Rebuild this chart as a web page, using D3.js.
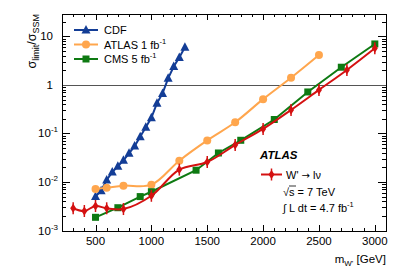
<!DOCTYPE html>
<html>
<head>
<meta charset="utf-8">
<script src="https://cdn.jsdelivr.net/npm/d3@7"></script>
<style>
body { margin: 0; background: #fff; }
text { font-family: "Liberation Sans", Arial, sans-serif; fill: #000; }
</style>
</head>
<body>
<svg id="chart" width="407" height="276"></svg>
<script>
// data
var cdfMass = [500, 550, 600, 650, 700, 750, 800, 850, 900, 950, 1000, 1050, 1100, 1150, 1200, 1250, 1300];
var cdfLimit = [0.0050, 0.0066, 0.011, 0.016, 0.021, 0.028, 0.039, 0.055, 0.086, 0.134, 0.21, 0.42, 0.67, 1.37, 2.4, 3.7, 6.0];

var atlas1Mass = [500, 600, 750, 1000, 1250, 1500, 1750, 2000, 2250, 2500];
var atlas1Limit = [0.0072, 0.0076, 0.0084, 0.0088, 0.0275, 0.072, 0.17, 0.51, 1.41, 4.15];

var cmsMass = [500, 700, 900, 1000, 1400, 1600, 1800, 2100, 2400, 2700, 3000];
var cmsLimit = [0.00187, 0.00295, 0.0050, 0.0063, 0.0175, 0.0396, 0.0724, 0.194, 0.717, 2.32, 7.0];

var atlasMass = [300, 400, 500, 600, 750, 1000, 1250, 1500, 1750, 2000, 2250, 2500, 2750, 3000];
var atlasLimit = [0.00287, 0.00252, 0.0032, 0.00287, 0.00277, 0.0052, 0.018, 0.0258, 0.058, 0.124, 0.305, 0.79, 2.04, 5.7];

var xTicks = [500, 1000, 1500, 2000, 2500, 3000];
var yTicks = [0.001, 0.01, 0.1, 1, 10];
var yTickBase = ["10", "10", "10", "1", "10"];
var yTickExp = ["-3", "-2", "-1", "", ""];

var svg = d3.select('#chart');
var L = 62, R = 386, T = 14, B = 231;

var x = d3.scaleLinear().domain([200, 3100]).range([L, R]);
var y = d3.scaleLog().domain([0.001, 29]).range([230.5, T]);

// frame ticks
var minorX = d3.range(200, 3101, 100);
var minorY = [];
[0.001, 0.01, 0.1, 1, 10].forEach(function(d){
  for (var k = 2; k <= 9; k++) { if (d * k <= 29) minorY.push(d * k); }
});

var ticks = svg.append('g').attr('stroke', '#000').attr('stroke-width', 1);
minorX.forEach(function(m){
  var len = xTicks.indexOf(m) >= 0 ? 6 : 3;
  var px = Math.round(x(m)) + 0.5;
  ticks.append('line').attr('x1', px).attr('x2', px).attr('y1', B).attr('y2', B - len);
  ticks.append('line').attr('x1', px).attr('x2', px).attr('y1', T).attr('y2', T + len);
});
minorY.concat(yTicks).forEach(function(v){
  var len = yTicks.indexOf(v) >= 0 ? 8 : 4;
  var py = Math.round(y(v)) + 0.5;
  ticks.append('line').attr('x1', L).attr('x2', L + len).attr('y1', py).attr('y2', py);
  ticks.append('line').attr('x1', R).attr('x2', R - len).attr('y1', py).attr('y2', py);
});

// line at 1
svg.append('line')
  .attr('x1', L).attr('x2', R)
  .attr('y1', Math.round(y(1)) + 0.5).attr('y2', Math.round(y(1)) + 0.5)
  .attr('stroke', '#555').attr('stroke-width', 1);

svg.append('rect')
  .attr('x', L + 0.5).attr('y', T + 0.5)
  .attr('width', R - L).attr('height', B - T)
  .attr('fill', 'none').attr('stroke', '#000').attr('stroke-width', 1);

// tick labels
xTicks.forEach(function(m){
  svg.append('text').attr('x', x(m)).attr('y', 245)
    .attr('text-anchor', 'middle').style('font-size', '11.5px').text(m);
});
yTicks.forEach(function(v, i){
  var t = svg.append('text').attr('y', y(v) + 4).style('font-size', '11.5px');
  if (yTickExp[i]) {
    t.attr('x', 58).attr('text-anchor', 'end');
    t.append('tspan').text(yTickBase[i]);
    t.append('tspan').attr('dy', -5).style('font-size', '8px').text(yTickExp[i]);
  } else {
    t.attr('x', 53).attr('text-anchor', 'end').text(yTickBase[i]);
  }
});

// axis titles
var xl = svg.append('text').attr('x', R).attr('y', 263)
  .attr('text-anchor', 'end').style('font-size', '11.5px');
xl.append('tspan').text('m');
xl.append('tspan').attr('dy', 3).style('font-size', '8px').text('W\'');
xl.append('tspan').attr('dy', -3).text(' [GeV]');

var yl = svg.append('text').attr('transform', 'translate(36,14) rotate(-90)')
  .attr('text-anchor', 'end').style('font-size', '12.5px');
yl.append('tspan').text('σ');
yl.append('tspan').attr('dy', 3).style('font-size', '9px').text('limit');
yl.append('tspan').attr('dy', -3).text('/σ');
yl.append('tspan').attr('dy', 3).style('font-size', '9px').text('SSM');

// series
var series = [
  { mass: cdfMass, lim: cdfLimit, color: '#133d96', marker: 'tri', curve: d3.curveLinear },
  { mass: atlas1Mass, lim: atlas1Limit, color: '#ffa64d', marker: 'circ', curve: d3.curveCatmullRom },
  { mass: cmsMass, lim: cmsLimit, color: '#0e7a12', marker: 'sq', curve: d3.curveLinear },
  { mass: atlasMass, lim: atlasLimit, color: '#d41111', marker: 'dia', curve: d3.curveCatmullRom }
];

function drawMarker(g, kind, cx, cy, color) {
  if (kind === 'tri') {
    g.append('path').attr('d', 'M' + cx + ',' + (cy - 5) + 'L' + (cx + 4.5) + ',' + (cy + 3.5) + 'L' + (cx - 4.5) + ',' + (cy + 3.5) + 'Z')
      .attr('fill', color);
  } else if (kind === 'circ') {
    g.append('circle').attr('cx', cx).attr('cy', cy).attr('r', 4).attr('fill', color);
  } else if (kind === 'sq') {
    g.append('rect').attr('x', cx - 3.5).attr('y', cy - 3.5).attr('width', 7).attr('height', 7).attr('fill', color);
  } else {
    g.append('line').attr('x1', cx).attr('x2', cx).attr('y1', cy - 6).attr('y2', cy + 6)
      .attr('stroke', color).attr('stroke-width', 1.5);
    g.append('path').attr('d', 'M' + cx + ',' + (cy - 4.5) + 'L' + (cx + 3) + ',' + cy + 'L' + cx + ',' + (cy + 4.5) + 'L' + (cx - 3) + ',' + cy + 'Z')
      .attr('fill', color);
  }
}

series.forEach(function(s){
  var pts = s.mass.map(function(m, i){ return [x(m), y(s.lim[i])]; });
  svg.append('path').attr('d', d3.line().curve(s.curve)(pts))
    .attr('fill', 'none').attr('stroke', s.color).attr('stroke-width', 2);
  var g = svg.append('g');
  pts.forEach(function(p){ drawMarker(g, s.marker, p[0], p[1], s.color); });
});

// legend
var legNames = ['CDF', 'ATLAS 1 fb', 'CMS 5 fb'];
var legSup = ['', '-1', '-1'];
var legY = [30, 44.5, 59];
[0, 1, 2].forEach(function(i){
  var s = series[i];
  svg.append('line').attr('x1', 74).attr('x2', 98).attr('y1', legY[i]).attr('y2', legY[i])
    .attr('stroke', s.color).attr('stroke-width', 2);
  drawMarker(svg.append('g'), s.marker, 86, legY[i], s.color);
  var t = svg.append('text').attr('x', 104).attr('y', legY[i] + 4).style('font-size', '11px');
  t.append('tspan').text(legNames[i]);
  if (legSup[i]) t.append('tspan').attr('dy', -5).style('font-size', '7.5px').text(legSup[i]);
});

svg.append('text').attr('x', 260).attr('y', 159)
  .style('font-size', '11.5px').style('font-weight', 'bold').style('font-style', 'italic').text('ATLAS');

svg.append('line').attr('x1', 261).attr('x2', 282).attr('y1', 174.5).attr('y2', 174.5)
  .attr('stroke', series[3].color).attr('stroke-width', 2);
drawMarker(svg.append('g'), 'dia', 271.5, 174.5, series[3].color);
var wt = svg.append('text').attr('x', 286).attr('y', 178.5).style('font-size', '11px');
wt.append('tspan').text('W\' ');
wt.append('tspan').style('font-family', '"DejaVu Sans"').style('font-size', '10px').text('\u2192');
wt.append('tspan').text(' l\u03bd');

var st = svg.append('text').attr('x', 283).attr('y', 195.5).style('font-size', '11px');
st.append('tspan').text('\u221as = 7 TeV');
svg.append('line').attr('x1', 289).attr('x2', 296).attr('y1', 186).attr('y2', 186)
  .attr('stroke', '#000').attr('stroke-width', 0.8);

var lt = svg.append('text').attr('x', 283).attr('y', 212).style('font-size', '11px');
lt.append('tspan').text('\u222b L dt = 4.7 fb');
lt.append('tspan').attr('dy', -5).style('font-size', '7.5px').text('-1');
</script>
</body>
</html>
